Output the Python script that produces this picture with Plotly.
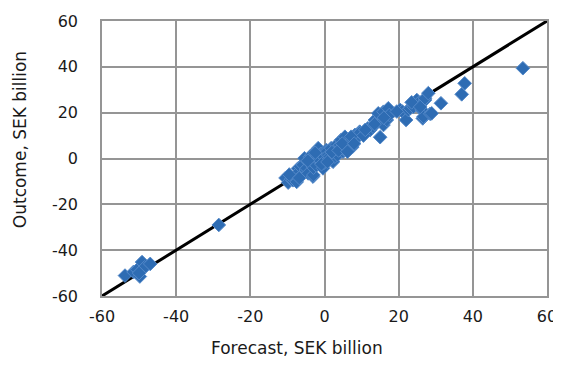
import plotly.graph_objects as go

# Data (SEK billion)
forecast = [
    -53.8, -51.5, -50.5, -49.8, -49.2, -48.5, -47.0, -50.0,
    -28.5,
    -10.5, -9.8, -9.0, -8.5, -7.6, -7.5, -7.1, -7.0, -6.5, -6.0, -5.8, -5.4,
    -5.0, -4.8, -4.4, -4.0, -3.9, -3.5, -3.1, -3.0, -3.0, -2.6, -2.2, -2.0,
    -1.7, -1.7, -1.3, -1.0, -0.4, -0.2, 0.0, 0.5, 0.6, 1.0, 1.4, 1.8, 2.3,
    2.8, 3.0, 3.2, 3.5, 4.2, 4.5, 5.0, 5.4, 5.5, 6.0, 6.8, 6.9, 7.5, 8.2,
    8.6, 9.5, 9.6, 11.7, 12.1, 12.3, 13.1, 13.6, 14.1, 14.5, 15.0, 15.9,
    15.9, 16.8, 17.2, 17.5, 20.4, 21.0, 22.0, 22.6, 23.1, 24.0, 24.9, 25.3,
    26.2, 26.5, 26.7, 27.1, 27.1, 28.0, 28.5, 28.9, 31.4, 37.0, 37.8, 53.5,
    -9.5, -6.8, -4.5, -2.5, -0.8, 0.8, 2.0, 3.8, 4.8, 6.2, 7.2, 8.0, 10.5,
    11.0, 13.5, 16.0, 19.5, 23.5, 25.8,
]
outcome = [
    -51.1, -49.5, -48.5, -51.5, -45.2, -47.5, -46.0, -50.0,
    -29.0,
    -8.5, -10.5, -9.0, -9.5, -8.0, -10.2, -4.3, -6.0, -3.5, -7.0, -2.8, 0.1,
    -5.0, -4.3, -6.5, -2.0, 0.8, 1.5, -7.9, -7.2, -4.0, -1.4, -3.0, 1.0,
    4.5, -0.6, -0.6, 2.0, -4.3, -2.0, 0.5, 3.7, 3.0, 1.5, 0.8, 4.5, -1.4,
    0.8, 2.5, 5.9, 1.5, 5.9, 8.1, 3.0, 3.7, 9.5, 5.0, 6.6, 7.3, 5.0, 10.3,
    8.8, 11.7, 11.3, 13.2, 12.7, 12.4, 13.9, 16.8, 16.1, 19.7, 9.3, 14.6,
    20.4, 16.8, 21.9, 19.0, 21.2, 20.5, 16.8, 21.2, 21.9, 22.6, 25.5, 24.1,
    21.2, 17.5, 18.2, 25.5, 26.3, 28.5, 19.5, 19.7, 24.1, 28.0, 32.8, 39.4,
    -7.0, -8.5, -1.0, 2.5, -2.5, -1.5, 2.8, 3.5, 6.5, 3.0, 9.5, 6.5, 10.0,
    12.5, 15.0, 17.8, 20.5, 24.5, 22.5,
]

axis_range = [-60, 60]
tick_vals = [-60, -40, -20, 0, 20, 40, 60]
tick_text = ["-60", "-40", "-20", "0", "20", "40", "60"]
x_title = "Forecast, SEK billion"
y_title = "Outcome, SEK billion"

FONT = "DejaVu Sans"
FS = 17
TICK_FS = 16
GRID = "#959595"

fig = go.Figure()
fig.add_trace(go.Scatter(
    x=axis_range, y=axis_range, mode="lines",
    line=dict(color="black", width=3), hoverinfo="skip", showlegend=False,
))
fig.add_trace(go.Scatter(
    x=forecast, y=outcome, mode="markers",
    marker=dict(symbol="diamond", size=10.5, color="#2e6cb3",
                line=dict(color="#5489c9", width=1)),
    showlegend=False,
))

axis_common = dict(
    range=axis_range, tickmode="array", tickvals=tick_vals, ticktext=tick_text,
    showgrid=True, gridcolor=GRID, gridwidth=1.5, zeroline=False,
    showline=True, linecolor=GRID, linewidth=1.5, mirror=True,
    ticks="", automargin=False,
    tickfont=dict(family=FONT, size=TICK_FS, color="#1a1a1a"),
)
fig.update_xaxes(**axis_common, ticklabelstandoff=5)
fig.update_yaxes(**axis_common, ticklabelstandoff=19)

fig.add_annotation(text=x_title, xref="paper", yref="paper", x=0.438, y=-0.189,
                   showarrow=False, xanchor="center", yanchor="middle",
                   font=dict(family=FONT, size=FS, color="#1a1a1a"))
fig.add_annotation(text=y_title, xref="paper", yref="paper", x=-0.184, y=0.567,
                   showarrow=False, xanchor="center", yanchor="middle", textangle=-90,
                   font=dict(family=FONT, size=FS, color="#1a1a1a"))

# the page body adds an 8px offset on each side, so the figure is sized to fit the window
fig.update_layout(
    width=553, height=349,
    margin=dict(l=94, r=14, t=13, b=61),
    plot_bgcolor="white", paper_bgcolor="white",
)
fig.write_html("out.html")
